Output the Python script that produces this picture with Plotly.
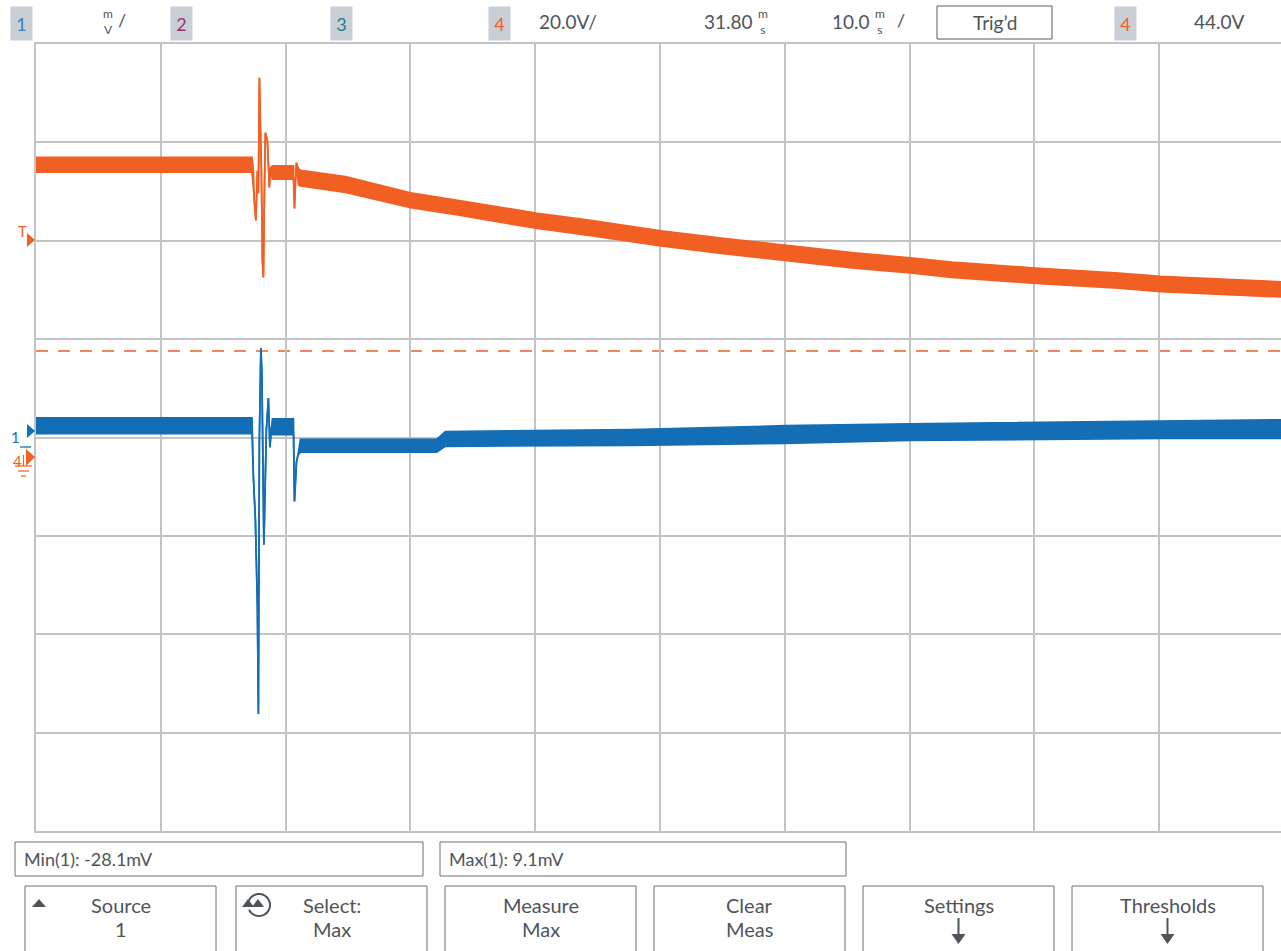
import math
import plotly.graph_objects as go

# ---------------- data ----------------
# Channel 1 (blue), 10 mV/div, envelope of the noisy trace (upper / lower), time in ms
T1_MS = [0, 17.31, 17.42, 17.58, 17.74, 17.82, 17.90, 17.94, 18.02, 18.10, 18.26, 18.46,
         18.62, 18.74, 18.86, 18.94, 20.63, 20.71, 20.79, 20.87, 20.99, 21.19, 32.10,
         32.80, 47.67, 60.03, 70.06, 90.13, 100.0]
CH1_HI_MV = [2.0, 2.0, -4.0, -8.4, -17.2, -28.1, 0.0, 5.8, 9.1, 6.5, -10.9, 0.8,
             4.0, -1.0, 1.1, 1.9, 1.9, -6.5, -4.6, -2.5, -1.8, -0.2, -0.2,
             0.6, 0.8, 1.2, 1.4, 1.7, 1.8]
CH1_LO_MV = [0.4, 0.4, -4.0, -8.4, -17.2, -28.1, 0.0, 5.8, 9.1, 6.5, -10.9, 0.8,
             4.0, -1.0, 1.1, 0.3, 0.3, -6.5, -4.6, -2.5, -1.8, -1.5, -1.5,
             -0.9, -0.8, -0.6, -0.3, -0.1, -0.1]

# Channel 4 (orange), 20 V/div
T4_MS = [0, 17.31, 17.42, 17.50, 17.62, 17.74, 17.82, 17.90, 17.98, 18.06, 18.14, 18.22,
         18.30, 18.38, 18.54, 18.62, 18.70, 18.78, 18.94, 20.63, 20.71, 20.79, 20.87,
         21.03, 21.19, 24.80, 30.02, 33.79, 37.80, 40.05, 44.46, 50.08, 54.90,
         60.11, 65.57, 70.06, 73.36, 80.10, 86.76, 90.13, 100.0]
CH4_HI_V = [61.2, 61.2, 58.5, 51.8, 48.4, 58.5, 53.9, 77.4, 68.0, 58.5, 40.3, 36.8,
            53.9, 66.2, 64.6, 60.6, 55.1, 59.1, 59.5, 59.5, 50.8, 56.1, 60.1,
            58.9, 58.6, 57.3, 54.0, 52.5, 50.9, 49.9, 48.4, 46.3, 44.8,
            43.3, 41.8, 40.8, 39.9, 38.7, 37.7, 37.0, 35.9]
CH4_LO_V = [58.2, 58.2, 55.1, 51.8, 48.4, 58.5, 53.9, 77.4, 68.0, 58.5, 40.3, 36.8,
            53.9, 66.2, 64.6, 60.6, 55.1, 59.1, 56.8, 56.8, 50.8, 56.1, 60.1,
            55.6, 55.4, 54.1, 51.0, 49.5, 47.8, 46.8, 45.3, 43.2, 41.7,
            40.2, 38.7, 37.7, 36.8, 35.6, 34.6, 33.9, 32.8]

MAX_MARKER_MV = 8.8
CH1_MV_PER_DIV = 10
CH4_V_PER_DIV = 20
CH4_OFFSET_DIV = -0.213   # channel-4 ground below screen centre
MS_PER_DIV = 10

HEADER_SCALE = "20.0V/"
HEADER_DELAY = "31.80"
HEADER_TIMEBASE = "10.0"
HEADER_TRIG = "Trig\u2019d"
HEADER_LEVEL = "44.0V"
MIN_TEXT = "Min(1): -28.1mV"
MAX_TEXT = "Max(1): 9.1mV"
BUTTONS = [("Source", "1"), ("Select:", "Max"), ("Measure", "Max"),
           ("Clear", "Meas"), ("Settings", ""), ("Thresholds", "")]

# ---------------- style / geometry ----------------
W, H = 1281, 951
L, R, T, B = 36, 0, 44, 120
PW, PH = W - L - R, H - T - B
ORANGE = "#F25F22"
BLUE = "#136EB5"
GRID = "#C3C3C7"
TXT = "#4F545A"
BOXBG = "#C9CFD6"
FONT = "Lato"


def X(px):
    return (px - L) / PW


def Y(py):
    return (H - B - py) / PH


fig = go.Figure()

# channel 4 (orange) envelope
fig.add_trace(go.Scatter(x=T4_MS, y=CH4_LO_V, mode="lines", yaxis="y2",
                         line=dict(color=ORANGE, width=1.7), hoverinfo="skip"))
fig.add_trace(go.Scatter(x=T4_MS, y=CH4_HI_V, mode="lines", yaxis="y2", fill="tonexty",
                         fillcolor=ORANGE, line=dict(color=ORANGE, width=1.7), hoverinfo="skip"))
# channel 1 (blue) envelope
fig.add_trace(go.Scatter(x=T1_MS, y=CH1_LO_MV, mode="lines",
                         line=dict(color=BLUE, width=1.7), hoverinfo="skip"))
fig.add_trace(go.Scatter(x=T1_MS, y=CH1_HI_MV, mode="lines", fill="tonexty",
                         fillcolor=BLUE, line=dict(color=BLUE, width=1.7), hoverinfo="skip"))

# axes ranges (8 vertical divisions, 10 horizontal)
ch1_range = [-4 * CH1_MV_PER_DIV, 4 * CH1_MV_PER_DIV]
ch4_range = [(-4 - CH4_OFFSET_DIV) * CH4_V_PER_DIV, (4 - CH4_OFFSET_DIV) * CH4_V_PER_DIV]
x_range = [0, 10 * MS_PER_DIV * (PW / 1248.0)]

shapes = []
annotations = []

# max marker dashed line
shapes.append(dict(type="line", xref="paper", x0=0, x1=1, yref="y", y0=MAX_MARKER_MV,
                   y1=MAX_MARKER_MV, line=dict(color=ORANGE, width=1.4, dash="12px,10px"),
                   layer="below"))


def text(px, py, s, size=18, color=TXT, xa="center", **kw):
    annotations.append(dict(xref="paper", yref="paper", x=X(px), y=Y(py), text=s,
                            showarrow=False, xanchor=xa, yanchor="middle",
                            font=dict(family=FONT, size=size, color=color), **kw))


def rect(x0, y0, x1, y1, color="#6E6E70", width=1, fill=None):
    shapes.append(dict(type="rect", xref="paper", yref="paper", x0=X(x0), x1=X(x1),
                       y0=Y(y0), y1=Y(y1), line=dict(color=color, width=width),
                       fillcolor=fill if fill else "rgba(0,0,0,0)"))


def poly(pts, color, width=0, fill=True):
    path = "M " + " L ".join(f"{X(a):.5f},{Y(b):.5f}" for a, b in pts)
    if fill:
        path += " Z"
    shapes.append(dict(type="path", xref="paper", yref="paper", path=path,
                       fillcolor=color if fill else "rgba(0,0,0,0)",
                       line=dict(color=color, width=width)))


def line(x0, y0, x1, y1, color, width=1.5):
    shapes.append(dict(type="line", xref="paper", yref="paper", x0=X(x0), x1=X(x1),
                       y0=Y(y0), y1=Y(y1), line=dict(color=color, width=width)))


# ---------------- header ----------------
def chbox(cx, label, color):
    annotations.append(dict(xref="paper", yref="paper", x=X(cx), y=Y(23), text=label,
                            showarrow=False, xanchor="center", yanchor="middle",
                            width=19, height=31, bgcolor=BOXBG,
                            font=dict(family=FONT, size=18, color=color)))


chbox(21.5, "1", "#3F7FC0")
chbox(181.5, "2", "#A0306B")
chbox(341.5, "3", "#17808F")
chbox(499.5, "4", ORANGE)
chbox(1125.5, "4", ORANGE)

text(108, 21, "m<br>V", size=12)
text(122, 20, "/", size=18)
text(568, 21, HEADER_SCALE, size=19)
text(755, 21, HEADER_DELAY, size=19, xa="right")
text(763, 21, "m<br>s", size=12)
text(872, 21, HEADER_TIMEBASE, size=19, xa="right")
text(880, 21, "m<br>s", size=12)
text(901, 20, "/", size=18)
rect(937, 6, 1052, 39, color="#5A5A5A", width=1)
text(994.5, 22, HEADER_TRIG, size=19)
text(1219, 21, HEADER_LEVEL, size=19)

# ---------------- left markers ----------------
text(22, 231, "T", size=15, color=ORANGE)
poly([(27, 233), (35, 240), (27, 247)], ORANGE)
text(15, 437, "1", size=15, color=BLUE)
poly([(27, 424), (35, 431), (27, 438)], BLUE)
line(20, 447, 31, 447, BLUE, 1.3)
text(17, 461, "4", size=15, color=ORANGE)
poly([(26, 449), (35, 457), (26, 466)], ORANGE)
line(23.5, 455, 23.5, 466, ORANGE, 1.2)
line(15, 466, 32, 466, ORANGE, 1.2)
line(18, 471, 29, 471, ORANGE, 1.2)
line(21, 476, 26, 476, ORANGE, 1.2)

# ---------------- bottom panel ----------------
rect(15, 842, 423, 876)
text(22, 859, MIN_TEXT, size=18, xa="left")
rect(440, 842, 846, 876)
text(447, 859, MAX_TEXT, size=18, xa="left")

bx0 = [25, 236, 445, 654, 863, 1072]
for x0, (l1, l2) in zip(bx0, BUTTONS):
    rect(x0, 886, x0 + 191, 975)
    cx = x0 + 95.5
    text(cx, 905, l1, size=20)
    if l2:
        text(cx, 929, l2, size=20)
    else:
        line(cx, 918, cx, 937, "#4F545A", 2)
        poly([(cx - 7, 934), (cx + 7, 934), (cx, 944)], "#4F545A")

# Source triangle
poly([(32, 907), (39, 899), (46, 907)], "#4F545A")
# Select rotate icon
arc = []
cxi, cyi, rr = 259, 905, 11
for k in range(0, 31):
    ang = math.radians(160 - k * 10.5)
    arc.append((cxi + rr * math.cos(ang), cyi - rr * math.sin(ang)))
poly(arc, "#4F545A", width=2, fill=False)
poly([(242, 907), (248, 899), (254, 907)], "#4F545A")
poly([(252, 907), (258, 899), (264, 907)], "#4F545A")

fig.update_layout(
    width=W, height=H, margin=dict(l=L, r=R, t=T, b=B, pad=0),
    paper_bgcolor="white", plot_bgcolor="white", showlegend=False,
    xaxis=dict(range=x_range, dtick=MS_PER_DIV, tick0=0, showgrid=True, gridcolor=GRID,
               gridwidth=1.5, zeroline=False, showticklabels=False, ticks="",
               showline=True, linecolor=GRID, linewidth=1.5, mirror=True, fixedrange=True),
    yaxis=dict(range=ch1_range, dtick=CH1_MV_PER_DIV, tick0=0, showgrid=True, gridcolor=GRID,
               gridwidth=1.5, zeroline=False, showticklabels=False, ticks="",
               showline=True, linecolor=GRID, linewidth=1.5, fixedrange=True),
    yaxis2=dict(range=ch4_range, overlaying="y", showgrid=False, zeroline=False,
                showticklabels=False, ticks="", fixedrange=True),
    shapes=shapes, annotations=annotations,
)

fig.write_html("out.html", config={"displayModeBar": False},
               post_script="document.body.style.margin='0';document.body.style.overflow='hidden';")
